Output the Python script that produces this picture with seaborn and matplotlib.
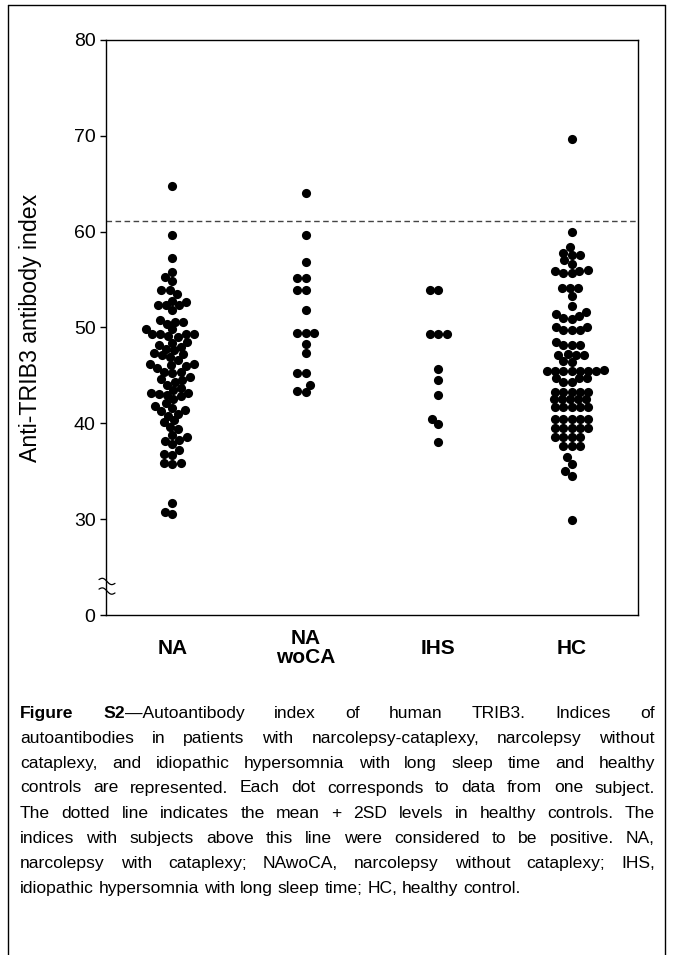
import matplotlib
matplotlib.use("Agg")
import matplotlib.pyplot as plt
import matplotlib.transforms as mtransforms
import seaborn as sns
import numpy as np
import pandas as pd

# ---------------- data ----------------
groups = ["NA", "NAwoCA", "IHS", "HC"]
group_labels = ["NA", "NA\nwoCA", "IHS", "HC"]

na_values = [64.8, 59.7, 57.2, 55.8, 55.3, 54.9, 53.9, 53.9, 53.5, 52.8, 52.7,
             52.3, 52.3, 52.3, 51.8, 50.8, 50.6, 50.6, 50.4, 49.8, 49.8, 49.3,
             49.3, 49.3, 49.3, 49.1, 49.0, 48.5, 48.4, 48.2, 48.0, 47.8, 47.6,
             47.3, 47.2, 47.1, 46.9, 46.6, 46.2, 46.2, 46.1, 46.0, 45.8, 45.4,
             45.4, 45.3, 44.8, 44.6, 44.5, 44.3, 44.0, 43.7, 43.5, 43.2, 43.2,
             43.1, 43.0, 42.8, 42.5, 42.1, 41.8, 41.6, 41.4, 41.3, 41.0, 40.8,
             40.3, 40.1, 39.6, 39.4, 38.8, 38.6, 38.3, 38.2, 37.8, 37.2, 36.8,
             36.7, 35.9, 35.9, 35.8, 31.7, 30.7, 30.5]
nawoca_values = [64.0, 59.6, 56.8, 55.2, 55.2, 53.9, 53.9, 51.8, 49.4, 49.4,
                 49.4, 48.3, 47.3, 45.2, 45.2, 44.0, 43.4, 43.3]
ihs_values = [53.9, 53.9, 49.3, 49.3, 49.3, 45.7, 44.5, 43.0, 40.4, 39.9, 38.1]
hc_values = [69.7, 60.0, 58.4, 57.8, 57.6, 57.6, 57.0, 56.6, 56.0, 55.9, 55.9,
             55.7, 55.7, 54.1, 54.1, 54.1, 53.3, 52.2, 51.6, 51.4, 51.2, 51.0,
             50.9, 50.0, 50.0, 49.7, 49.7, 49.7, 48.5, 48.2, 48.2, 48.2, 47.2,
             47.1, 47.1, 47.1, 46.5, 46.4, 45.6, 45.5, 45.5, 45.5, 45.5, 45.5,
             45.5, 45.5, 44.7, 44.7, 44.7, 44.3, 44.3, 43.3, 43.3, 43.3, 43.3,
             43.3, 42.5, 42.5, 42.5, 42.5, 42.5, 41.7, 41.7, 41.7, 41.7, 41.7,
             40.5, 40.5, 40.5, 40.5, 40.5, 39.5, 39.5, 39.5, 39.5, 39.5, 38.6,
             38.6, 38.6, 38.6, 37.6, 37.6, 37.6, 36.5, 35.8, 35.0, 34.5, 29.9]
cutoff = 61.1  # mean + 2SD of healthy controls

y_ticks = [20, 30, 40, 50, 60, 70, 80]
y_tick_labels = ["0", "30", "40", "50", "60", "70", "80"]
y_label = "Anti-TRIB3 antibody index"

caption_lines = [
    "**Figure S2**—Autoantibody index of human TRIB3. Indices of",
    "autoantibodies in patients with narcolepsy-cataplexy, narcolepsy without",
    "cataplexy, and idiopathic hypersomnia with long sleep time and healthy",
    "controls are represented. Each dot corresponds to data from one subject.",
    "The dotted line indicates the mean + 2SD levels in healthy controls. The",
    "indices with subjects above this line were considered to be positive. NA,",
    "narcolepsy with cataplexy; NAwoCA, narcolepsy without cataplexy; IHS,",
    "idiopathic hypersomnia with long sleep time; HC, healthy control.",
]

# ---------------- figure ----------------
sns.set_style("white")
plt.rcParams["font.family"] = ["Liberation Sans", "DejaVu Sans"]
plt.rcParams["text.color"] = "black"
plt.rcParams["axes.labelcolor"] = "black"
plt.rcParams["xtick.color"] = "black"
plt.rcParams["ytick.color"] = "black"

W, H = 673, 955
fig = plt.figure(figsize=(W / 100, H / 100), dpi=100)
ax = fig.add_axes([106 / W, 1 - 615 / H, (638 - 106) / W, (615 - 40) / H])

df = pd.DataFrame({
    "group": (["NA"] * len(na_values) + ["NAwoCA"] * len(nawoca_values)
              + ["IHS"] * len(ihs_values) + ["HC"] * len(hc_values)),
    "value": na_values + nawoca_values + ihs_values + hc_values,
})

# lay out the swarm with a slightly smaller dot so neighbouring dots overlap a
# little, as in the original figure
sns.swarmplot(data=df, x="group", y="value", order=groups, color="black",
              size=5.6, linewidth=0, ax=ax, zorder=3)

ax.axhline(cutoff, color="#444444", lw=1.0, ls=(0, (4, 2.5)), zorder=2)

ax.set_xlim(-0.5, 3.5)
ax.set_ylim(20, 80)
ax.set_yticks(y_ticks)
ax.set_yticklabels(y_tick_labels, fontsize=14)
ax.set_xticks(range(len(groups)))
ax.set_xticklabels(group_labels, fontsize=15, fontweight="bold", linespacing=1.0)
for lab in ax.get_xticklabels():
    lab.set_verticalalignment("center")
ax.tick_params(axis="x", length=0, pad=24)
ax.tick_params(axis="y", direction="out", length=4.5, width=1, color="black",
               pad=3, left=True)
ax.set_xlabel("")
ax.set_ylabel(y_label, fontsize=16.7)
ax.yaxis.set_label_coords((42 - 106) / (638 - 106), 0.5)
for s in ax.spines.values():
    s.set_visible(True)
    s.set_color("black")
    s.set_linewidth(1.0)

# axis break marks
trans = mtransforms.blended_transform_factory(ax.transAxes, ax.transData)
t = np.linspace(0, 1, 40)
bx = (-7 + 16 * t) / 532
for base in (23.5, 22.5):
    by = base + 0.22 * np.sin(2 * np.pi * t) + 0.2 - 0.4 * t
    ax.plot(bx, by, color="black", lw=0.9, transform=trans,
            clip_on=False, zorder=5)

# fix the swarm layout, then enlarge the dots to their drawn size
fig.canvas.draw()
for coll in ax.collections:
    if "draw" in coll.__dict__:
        del coll.draw
    coll.set_sizes([6.6 ** 2])

# outer border
for (x0, y0, x1, y1) in [(8, 5, 665, 5), (8, 5, 8, 955), (665, 5, 665, 955)]:
    fig.add_artist(plt.Line2D([x0 / W, x1 / W], [1 - y0 / H, 1 - y1 / H],
                              color="black", lw=1.0))

# ---------------- caption (justified) ----------------
renderer = fig.canvas.get_renderer()
cap_fs = 12.6
left_px, right_px = 20, 655


def parse_words(line):
    words = []
    bold = False
    for w in line.split(" "):
        segs = []
        parts = w.split("**")
        for i, p in enumerate(parts):
            if i > 0:
                bold = not bold
            if p:
                segs.append((p, bold))
        words.append(segs)
    return words


def text_width(s, **kw):
    tt = fig.text(0, 0, s, fontsize=cap_fs, **kw)
    w = tt.get_window_extent(renderer).width
    tt.remove()
    return w


space_w = text_width("a a") - text_width("aa")

for li, line in enumerate(caption_lines):
    words = parse_words(line)
    baseline = 717.5 + 25 * li
    items = []
    widths = []
    for segs in words:
        seg_items = []
        wsum = 0
        for txt, b in segs:
            tt = fig.text(0, 1 - baseline / H, txt, fontsize=cap_fs,
                          fontweight="bold" if b else "normal",
                          va="baseline", ha="left", color="black")
            wpx = tt.get_window_extent(renderer).width
            seg_items.append((tt, wpx))
            wsum += wpx
        items.append(seg_items)
        widths.append(wsum)
    last = li == len(caption_lines) - 1
    if last or len(words) < 2:
        gap = space_w
    else:
        gap = (right_px - left_px - sum(widths)) / (len(words) - 1)
    x = left_px
    for seg_items, wsum in zip(items, widths):
        xx = x
        for tt, wpx in seg_items:
            tt.set_x(xx / W)
            xx += wpx
        x += wsum + gap

fig.savefig("out.png", dpi=100)
